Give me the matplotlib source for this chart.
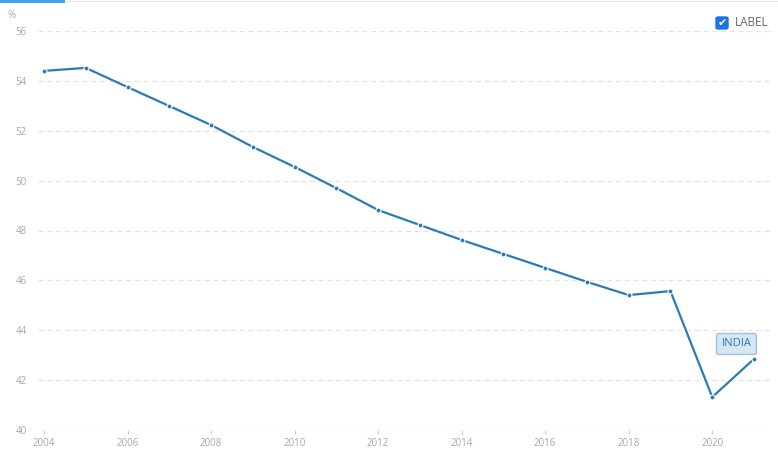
import matplotlib.pyplot as plt
from matplotlib.patches import FancyBboxPatch, Rectangle

years = list(range(2004, 2022))
values = [54.40, 54.52, 53.75, 52.99, 52.23, 51.35, 50.55, 49.70, 48.82,
          48.22, 47.62, 47.06, 46.50, 45.94, 45.41, 45.57, 41.32, 42.85]
yticks = [40, 42, 44, 46, 48, 50, 52, 54, 56]
xticks = list(range(2004, 2022, 2))
series_name = 'INDIA'

line_color = '#2c7bb6'
grid_color = '#e3e3e3'
text_color = '#a8a8a8'

plt.rcParams['font.family'] = ['Open Sans', 'DejaVu Sans']

fig = plt.figure(figsize=(7.78, 4.70), dpi=100)
ax = fig.add_axes([38 / 778, 1 - 430 / 470, (774 - 38) / 778, (430 - 31) / 470])

ax.plot(years, values, color=line_color, lw=1.6, marker='o', ms=3.6,
        mfc=line_color, mec='white', mew=0.8, zorder=3)

ax.set_ylim(40, 56)
ax.set_xlim(2004 - 6 / 41.75, 2021 + 20 / 41.75)
ax.set_yticks(yticks)
ax.set_xticks(xticks)
ax.grid(axis='y', color=grid_color, ls=(0, (4, 3)), lw=0.9)
ax.grid(axis='x', visible=False)
for s in ax.spines.values():
    s.set_visible(False)
ax.tick_params(axis='y', length=0, labelsize=7, labelcolor=text_color, pad=8)
ax.tick_params(axis='x', length=3, color='#cccccc', labelsize=7,
               labelcolor=text_color, pad=3, direction='out')

# unit label
fig.text(8 / 778, 1 - 16 / 470, '%', fontsize=7, color=text_color, va='center')

# top bar
fig.add_artist(Rectangle((0, 1 - 2 / 470), 1, 1.5 / 470, transform=fig.transFigure,
                         color='#e6e6e6', lw=0))
fig.add_artist(Rectangle((0, 1 - 2.5 / 470), 65 / 778, 2.5 / 470,
                         transform=fig.transFigure, color='#3ea1f2', lw=0))

# checkbox + LABEL
fig.add_artist(FancyBboxPatch((716 / 778, 1 - 29 / 470), 12 / 778, 12 / 470,
                              boxstyle='round,pad=0,rounding_size=0.003',
                              transform=fig.transFigure, fc='#1a73e8', ec='#1a73e8'))
fig.text(722 / 778, 1 - 23 / 470, '✔', fontsize=8, color='white',
         ha='center', va='center', family='DejaVu Sans')
fig.text(735 / 778, 1 - 22.5 / 470, 'LABEL', fontsize=8.5, color='#666666', va='center')

# series label
ax.annotate(series_name, xy=(2020.58, 43.45), ha='center', va='center',
            fontsize=8, color=line_color,
            bbox=dict(boxstyle='round,pad=0.45,rounding_size=0.2',
                      fc='#d6e6f4', ec='#9cc3e3', lw=1))

fig.savefig('out.png', dpi=100)
